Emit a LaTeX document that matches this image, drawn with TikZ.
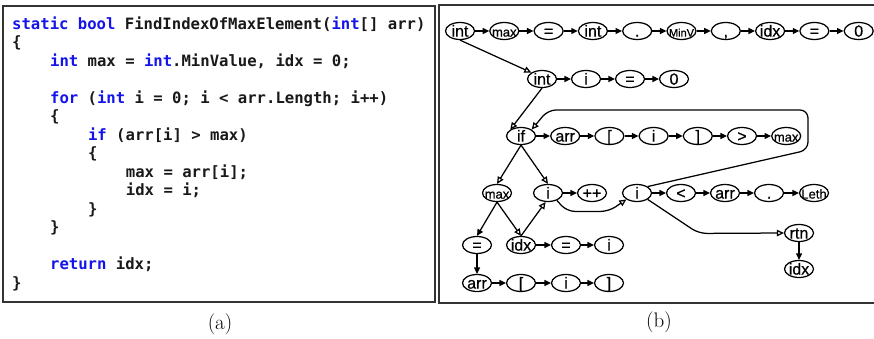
\documentclass[tikz,border=0pt]{standalone}
\usepackage{fontspec}
\usepackage{tikz}
\usetikzlibrary{shapes.geometric,arrows.meta}
\newfontfamily\codefont{DejaVu Sans Mono}
\newfontfamily\tokfont{Liberation Sans}[FakeBold=0.6]
\definecolor{kwblue}{RGB}{20,20,235}
\newcommand{\kw}[1]{\textcolor{kwblue}{#1}}
\newcommand{\sm}[1]{{\fontsize{13}{13}\selectfont #1}}
\newcommand{\xs}[1]{{\fontsize{11}{11}\selectfont #1}}
\frenchspacing

\begin{document}
\begin{tikzpicture}
      [   x=1pt,y=-1pt,
          code/.style={anchor=base west,inner sep=0pt,text=black!90,font=\codefont\bfseries\fontsize{15.6}{18}\selectfont},
          tok/.style={draw=black,ellipse,line width=1.25pt,minimum width=29pt,minimum height=17pt,inner sep=0pt,
                      text height=11.2pt,text depth=0pt,font=\tokfont\fontsize{16}{16}\selectfont,
                      execute at begin node={\hbox to 0pt\bgroup\hss},execute at end node={\hss\egroup}},
          nxt/.style={line width=1.25pt,-{Triangle[length=6.5pt,width=6pt]}},
          ctl/.style={line width=1.25pt,-{Triangle[open,length=7pt,width=6.5pt]}},
          panel/.style={draw=black!80,line width=1.2pt},
          caption/.style={font=\rmfamily\fontsize{21}{22}\selectfont},
      ]
          \useasboundingbox (0,0) rectangle (874,339);
          % the two panels
          \draw[panel] (3,6) rectangle (435,302);
          \draw[panel] (439,5) rectangle (880,303);
          \node[caption] (capA) at (220,324) {(a)};
          \node[caption] (capB) at (659,322) {(b)};

          % (a) the source code
          \foreach \n/\c/\t in {1/0/{\kw{static} \kw{bool} FindIndexOfMaxElement(\kw{int}[] arr)},
                               2/0/{\{},
                               3/4/{\kw{int} max = \kw{int}.MinValue, idx = 0;},
                               5/4/{\kw{for} (\kw{int} i = 0; i < arr.Length; i++)},
                               6/4/{\{},
                               7/8/{\kw{if} (arr[i] > max)},
                               8/8/{\{},
                               9/12/{max = arr[i];},
                               10/12/{idx = i;},
                               11/8/{\}},
                               12/4/{\}},
                               14/4/{\kw{return} idx;},
                               15/0/{\}}}
          {   \node[code] (code-\n) at ({12+9.48*\c},{29.3+18.5*(\n-1)}) {\t};
          }

          % (b) the token graph
          \foreach \t [count=\k] in {int,\sm{max},=,int,.,\xs{MinV},{,},idx,=,0}
          {   \node[tok] (r1-\k) at ({460+44.3*(\k-1)},31) {\t};
          }
          \foreach \t [count=\k] in {int,i,=,0}
          {   \node[tok] (r2-\k) at ({542+44*(\k-1)},79) {\t};
          }
          \foreach \t [count=\k] in {if,arr,{[},i,{]},>,\sm{max}}
          {   \node[tok] (r3-\k) at ({521+44.2*(\k-1)},136) {\t};
          }
          \foreach \x/\t [count=\k] in {497/\sm{max},548/i,592/++,637/i,681/<,725/arr,769/.,814/\sm{Leth}}
          {   \node[tok] (r4-\k) at (\x,193) {\t};
          }
          \foreach \x/\t [count=\k] in {477/=,521/idx,566/=,609/i}
          {   \node[tok] (r5-\k) at (\x,245) {\t};
          }
          \foreach \x/\t [count=\k] in {477/arr,521/{[},566/i,609/{]}}
          {   \node[tok] (r6-\k) at (\x,283) {\t};
          }
          \node[tok] (rtn) at (799,233) {rtn};
          \node[tok] (rtn-idx) at (799,269) {idx};

          % next-token edges
          \foreach \k [remember=\k as \j (initially 1)] in {2,...,10} \draw[nxt] (r1-\j) -- (r1-\k);
          \foreach \k [remember=\k as \j (initially 1)] in {2,...,4} \draw[nxt] (r2-\j) -- (r2-\k);
          \foreach \k [remember=\k as \j (initially 1)] in {2,...,7} \draw[nxt] (r3-\j) -- (r3-\k);
          \foreach \k [remember=\k as \j (initially 4)] in {5,...,8} \draw[nxt] (r4-\j) -- (r4-\k);
          \foreach \k [remember=\k as \j (initially 2)] in {3,4} \draw[nxt] (r5-\j) -- (r5-\k);
          \foreach \k [remember=\k as \j (initially 1)] in {2,...,4} \draw[nxt] (r6-\j) -- (r6-\k);
          \draw[nxt] (r4-2) -- (r4-3);
          \draw[nxt] (r4-1.south) -- (r5-1.north);
          \draw[nxt] (r5-1) -- (r6-1);
          \draw[nxt] (rtn) -- (rtn-idx);

          % control-flow edges
          \coordinate (loopA) at (808,150);
          \coordinate (loopB) at (808,110);
          \coordinate (loopC) at (548,110);
          \draw[ctl] (r1-1.south) -- (r2-1.north west);
          \draw[ctl] (r2-1.south) -- (r3-1.north west);
          \draw[ctl] (r3-1.south) -- (r4-1.north);
          \draw[ctl] (r3-1.south) -- (r4-2.north);
          \draw[ctl] (r4-1.south) -- (r5-2.north);
          \draw[ctl] (r5-2.north) -- (r4-2.-105);
          \draw[ctl,rounded corners=8pt] (r4-2.-40) -- ++(10,11) -- ++(42,0) -- (r4-4.south west);
          \draw[ctl,rounded corners=8pt] (r4-4.north east) -- (loopA) -- (loopB) -- (loopC) -- (r3-1.north east);
          \draw[ctl,rounded corners=8pt] (r4-4.south east) -- ++(51,34) -- (rtn.west);
\end{tikzpicture}
\end{document}
